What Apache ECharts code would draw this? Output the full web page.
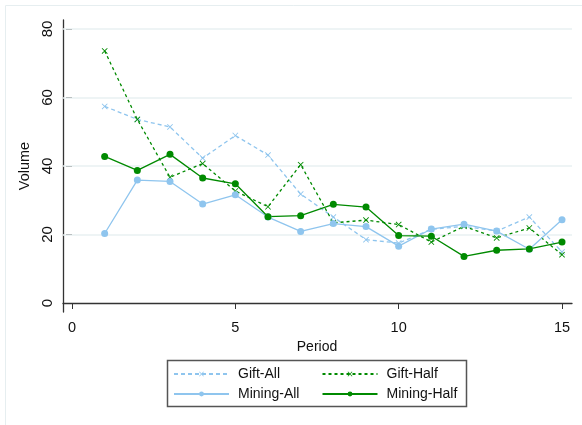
<!DOCTYPE html>
<html>
<head>
<meta charset="utf-8">
<script src="https://cdn.jsdelivr.net/npm/echarts@6/dist/echarts.min.js"></script>
<style>
html,body{margin:0;padding:0;background:#fff;}
#chart{width:582px;height:425px;}
</style>
</head>
<body>
<div id="chart"></div>
<script>
var periods = [1,2,3,4,5,6,7,8,9,10,11,12,13,14,15];
var giftAll    = [57.4,53.6,51.4,42.3,48.9,43.2,31.8,25.1,18.5,17.5,21.5,22.4,21.0,25.1,14.9];
var giftHalf   = [73.6,53.6,36.7,40.7,32.7,28.1,40.4,23.4,24.2,22.9,17.8,22.4,19.0,21.9,14.1];
var miningAll  = [20.3,35.9,35.5,28.9,31.6,25.1,20.9,23.2,22.3,16.6,21.6,23.0,21.0,15.7,24.3];
var miningHalf = [42.8,38.7,43.4,36.5,34.8,25.2,25.5,28.8,28.0,19.7,19.5,13.6,15.4,15.8,17.8];
var xTicks = [0,5,10,15];
var yTicks = [0,20,40,60,80];
var gridLines = [20,40,60,80];

var LIGHT = '#8fc5ee';
var GREEN = '#008a00';
var XSYM = 'path://M0,1L1,0L5,4L9,0L10,1L6,5L10,9L9,10L5,6L1,10L0,9L4,5Z';
var FONT = 'Liberation Sans, Arial, sans-serif';

function pairs(arr){ return periods.map(function(p,i){ return [p, arr[i]]; }); }

function mk(name, arr, color, dashed, dash, symbol, size){
  return {
    name: name, type: 'line', xAxisIndex: 0, yAxisIndex: 0,
    data: pairs(arr),
    symbol: symbol, symbolSize: size, showSymbol: true,
    itemStyle: { color: color },
    lineStyle: { color: color, width: 1.3, type: dashed ? dash : 'solid' },
    emphasis: { disabled: true },
    animation: false, z: 5
  };
}

var legendText = { fontSize: 14, color: '#111', fontFamily: FONT, padding: [0,0,0,4] };

var chart = echarts.init(document.getElementById('chart'), null, {renderer: 'canvas'});
chart.setOption({
  animation: false,
  backgroundColor: '#fff',
  textStyle: { fontFamily: FONT },
  grid: [
    { left: 72, right: 20, top: 29, bottom: 122 },
    { left: 63, right: 10, top: 20, bottom: 113 }
  ],
  xAxis: [
    { type: 'value', gridIndex: 0, min: 0, max: 15, interval: 5, offset: 9,
      axisLine: { show: false },
      axisTick: { show: true, length: 6, lineStyle: { color: '#333', width: 1 } },
      axisLabel: { color: '#111', fontSize: 14.5, margin: 8, fontFamily: FONT,
        formatter: function(v){ return xTicks.indexOf(v) >= 0 ? String(v) : ''; } },
      splitLine: { show: false },
      name: 'Period', nameLocation: 'middle', nameGap: 24,
      nameTextStyle: { color: '#111', fontSize: 14, fontFamily: FONT }
    },
    { type: 'value', gridIndex: 1, min: 0, max: 1,
      axisLine: { show: true, lineStyle: { color: '#333', width: 1.3 } },
      axisTick: { show: false }, axisLabel: { show: false }, splitLine: { show: false }
    }
  ],
  yAxis: [
    { type: 'value', gridIndex: 0, min: 0, max: 80, interval: 20, offset: 9,
      axisLine: { show: false },
      axisTick: { show: true, length: 6, lineStyle: { color: '#333', width: 1 } },
      axisLabel: { color: '#111', fontSize: 15, rotate: 90, margin: 8, fontFamily: FONT,
        formatter: function(v){ return yTicks.indexOf(v) >= 0 ? String(v) : ''; } },
      splitLine: { show: false },
      name: 'Volume', nameLocation: 'middle', nameGap: 28, nameRotate: 90,
      nameTextStyle: { color: '#111', fontSize: 14.5, fontFamily: FONT }
    },
    { type: 'value', gridIndex: 1, min: -2.63, max: 82.63,
      axisLine: { show: true, lineStyle: { color: '#333', width: 1.3 } },
      axisTick: { show: false }, axisLabel: { show: false }, splitLine: { show: false }
    }
  ],
  legend: [
    { orient: 'vertical', left: 168, top: 362, itemWidth: 55, itemHeight: 6, itemGap: 6,
      data: ['Gift-All','Mining-All'], padding: 5,
      textStyle: legendText, selectedMode: false },
    { orient: 'vertical', left: 316.5, top: 362, itemWidth: 55, itemHeight: 6, itemGap: 6,
      data: ['Gift-Half','Mining-Half'], padding: 5,
      textStyle: legendText, selectedMode: false }
  ],
  graphic: [
    { type: 'rect', shape: { x: 167.5, y: 360.5, width: 299, height: 46 },
      style: { fill: 'none', stroke: '#555', lineWidth: 1.5 }, z: 0 },
    { type: 'line', shape: { x1: 5.5, y1: 5.5, x2: 582, y2: 5.5 },
      style: { stroke: '#e6eef0', lineWidth: 1 } },
    { type: 'line', shape: { x1: 5.5, y1: 5.5, x2: 5.5, y2: 425 },
      style: { stroke: '#e6eef0', lineWidth: 1 } }
  ],
  series: [
    { name: 'grid', type: 'line', xAxisIndex: 1, yAxisIndex: 1, data: [],
      silent: true, animation: false,
      markLine: { silent: true, symbol: ['none','none'], label: { show: false },
        animation: false,
        lineStyle: { color: '#e8f0f2', width: 1.5, type: 'solid' },
        data: gridLines.map(function(v){ return { yAxis: v }; }) } },
    mk('Gift-All', giftAll, LIGHT, true, [4,3], XSYM, 6),
    mk('Gift-Half', giftHalf, GREEN, true, [3,3], XSYM, 6),
    mk('Mining-All', miningAll, LIGHT, false, null, 'circle', 7),
    mk('Mining-Half', miningHalf, GREEN, false, null, 'circle', 7)
  ]
});
</script>
</body>
</html>
